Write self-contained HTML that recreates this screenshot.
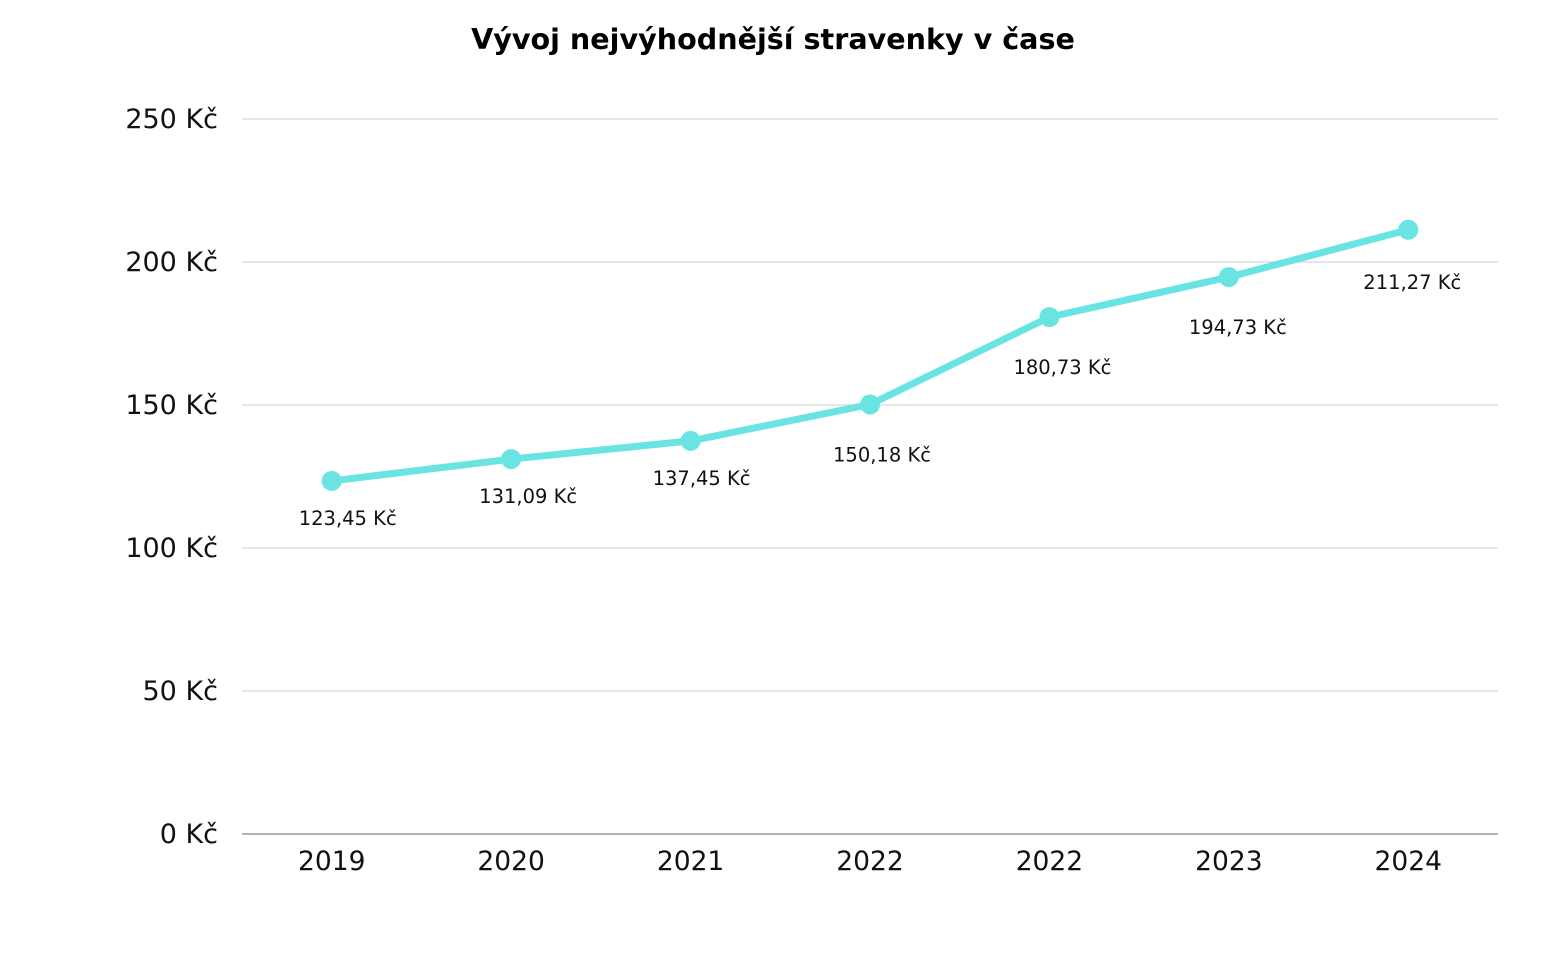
<!DOCTYPE html>
<html><head><meta charset="utf-8"><style>
body{margin:0;background:#fff;}
svg{display:block;font-family:"DejaVu Sans","Liberation Sans",sans-serif;}
</style></head><body>
<svg id="chart" width="1546" height="954">
<text x="773" y="49" text-anchor="middle" font-size="28.6" font-weight="bold" fill="#000">Vývoj nejvýhodnější stravenky v čase</text>
<g id="grid"></g><g id="yticks"></g><g id="xticks"></g><g id="series"></g><g id="labels"></g>
</svg>
<script>
const categories=["2019","2020","2021","2022","2022","2023","2024"];
const values=[123.45,131.09,137.45,150.18,180.73,194.73,211.27];
const valueLabels=["123,45 Kč","131,09 Kč","137,45 Kč","150,18 Kč","180,73 Kč","194,73 Kč","211,27 Kč"];
const yTicks=[0,50,100,150,200,250];
const yTickLabels=["0 Kč","50 Kč","100 Kč","150 Kč","200 Kč","250 Kč"];
const NS="http://www.w3.org/2000/svg";
const L=242,R=1498,T=119,B=834,yMax=250;
const bw=(R-L)/categories.length;
const x=i=>L+bw*(i+0.5);
const y=v=>B-(v/yMax)*(B-T);
const labDx=[16,17,11,12,13,9,4];
const labDy=[44,44,44,57,57,57,59];
function mk(tag,attrs,parent,txt){const e=document.createElementNS(NS,tag);for(const k in attrs)e.setAttribute(k,attrs[k]);if(txt!==undefined)e.textContent=txt;document.getElementById(parent).appendChild(e);return e;}
yTicks.forEach((t,i)=>{
 const g=mk("line",{x1:L,x2:R,y1:y(t),y2:y(t),stroke:t===0?"#999":"#cccccc","stroke-width":t===0?1.5:1},"grid");
 
 
 const tx=mk("text",{x:218,y:y(t)+9,"text-anchor":"end","font-size":27,fill:"#111"},"yticks",yTickLabels[i]);
 
 
});
categories.forEach((c,i)=>{
 const tx=mk("text",{x:x(i),y:870,"text-anchor":"middle","font-size":26.5,fill:"#111"},"xticks",c);
 
 
});
const pts=values.map((v,i)=>x(i)+","+y(v)).join(" ");
const pl=mk("polyline",{points:pts,fill:"none",stroke:"#6ae3e3","stroke-width":7,"stroke-linejoin":"round","stroke-linecap":"round"},"series");


values.forEach((v,i)=>{
 const c=mk("circle",{cx:x(i),cy:y(v),r:10,fill:"#6ae3e3"},"series");
 
 
 const t=mk("text",{x:x(i)+labDx[i],y:y(v)+labDy[i],"text-anchor":"middle","font-size":19.5,fill:"#111"},"labels",valueLabels[i]);
 
 
});
</script>
</body></html>
